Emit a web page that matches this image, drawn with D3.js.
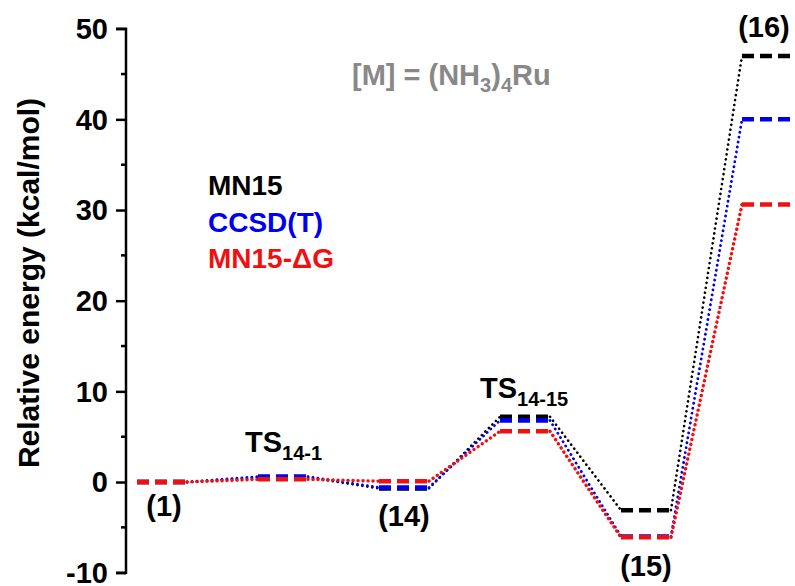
<!DOCTYPE html>
<meta charset="utf-8">
<head>
  <title>Energy profile</title>
</head>
<style>
body { margin: 0; background: #fff; }
text { font-family: "Liberation Sans", Arial, sans-serif; font-weight: bold; }
</style>
<body>
  <svg width="795" height="586"></svg>

  <script src="https://cdnjs.cloudflare.com/ajax/libs/d3/7.8.5/d3.min.js"></script>
  <script>
var width = 795, height = 586

// states along the path
var states = ['(1)', 'TS14-1', '(14)', 'TS14-15', '(15)', '(16)']
// relative energies, kcal/mol
var mn15 = [0, 0.5, -0.7, 7.2, -3.1, 47.0]
var ccsdt = [0, 0.6, -0.6, 6.8, -6.0, 40.0]
var mn15dG = [0, 0.3, 0.1, 5.6, -6.1, 30.6]
var yTicks = [-10, 0, 10, 20, 30, 40, 50]
var yMinor = [-5, 5, 15, 25, 35, 45]

var series = [
  {name: 'MN15', values: mn15, color: '#000000', dot: 2.6},
  {name: 'CCSD(T)', values: ccsdt, color: '#0000f0', dot: 2.8},
  {name: 'MN15-ΔG', values: mn15dG, color: '#f01010', dot: 3.4}
]

var svg = d3.select('svg')

var y = d3.scaleLinear().domain([-10, 50]).range([572.7, 28.7])
var x = d3.scaleLinear().domain([0, states.length - 1]).range([162, 767])
var half = 25

// axis
var axis = d3.axisLeft(y).tickValues(yTicks).tickSize(10).tickPadding(8)
  .tickFormat(function(d) { return String(d) })
var g = svg.append('g').attr('transform', 'translate(126,0)').call(axis)
g.select('.domain').attr('stroke-width', 2.5).attr('d', 'M-10,' + y(-10) + 'H0V' + y(50) + 'H-10')
g.selectAll('.tick line').attr('stroke-width', 2.5)
g.selectAll('.tick text').attr('font-size', 29).attr('font-family', '"Liberation Sans", Arial, sans-serif')
  .attr('font-weight', 'bold').attr('fill', '#000').attr('dy', '0.34em')
g.selectAll('.minor').data(yMinor).enter().append('line')
  .attr('x1', -5).attr('x2', 0)
  .attr('y1', function(d) { return y(d) }).attr('y2', function(d) { return y(d) })
  .attr('stroke', '#000').attr('stroke-width', 2.5)

svg.append('text')
  .attr('transform', 'translate(39,' + 283 + ') rotate(-90)')
  .attr('text-anchor', 'middle')
  .attr('font-size', 30)
  .text('Relative energy (kcal/mol)')

// connectors and levels
series.forEach(function(s) {
  var conn = svg.append('g')
  for (var i = 0; i < s.values.length - 1; i++) {
    conn.append('line')
      .attr('x1', x(i) + half).attr('y1', y(s.values[i]))
      .attr('x2', x(i + 1) - half).attr('y2', y(s.values[i + 1]))
      .attr('stroke', s.color)
      .attr('stroke-width', s.dot)
      .attr('stroke-linecap', 'round')
      .attr('stroke-dasharray', '0.1,4.9')
  }
})
series.forEach(function(s) {
  svg.append('g').selectAll('line')
    .data(s.values)
    .enter().append('line')
    .attr('x1', function(d, i) { return x(i) - half })
    .attr('x2', function(d, i) { return x(i) + half })
    .attr('y1', function(d) { return y(d) })
    .attr('y2', function(d) { return y(d) })
    .attr('stroke', s.color)
    .attr('stroke-width', 4.5)
    .attr('stroke-dasharray', '12,6')
})

// state labels
function label(txt, sub, cx, by, anchor) {
  var t = svg.append('text').attr('x', cx).attr('y', by).attr('font-size', 29)
    .attr('text-anchor', anchor || 'middle').text(txt)
  if (sub) {
    t.append('tspan').attr('font-size', 20).attr('dy', 8).text(sub)
  }
}
label('(1)', null, x(0) + 2, 516)
label('TS', '14-1', 245, 452, 'start')
label('(14)', null, x(2), 526)
label('TS', '14-15', 480, 398, 'start')
label('(15)', null, x(4), 576)
label('(16)', null, x(5) - 3, 37)

// legend
series.forEach(function(s, i) {
  svg.append('text').attr('x', 208).attr('y', 195 + i * 36.5)
    .attr('font-size', 28).attr('fill', s.color).text(s.name)
})

// note
var note = svg.append('text').attr('x', 352).attr('y', 85).attr('font-size', 29).attr('fill', '#888')
note.append('tspan').text('[M] = (NH')
note.append('tspan').attr('font-size', 20).attr('dy', 7).text('3')
note.append('tspan').attr('dy', -7).text(')')
note.append('tspan').attr('font-size', 20).attr('dy', 7).text('4')
note.append('tspan').attr('dy', -7).text('Ru')
  </script>
</body>
</html>
